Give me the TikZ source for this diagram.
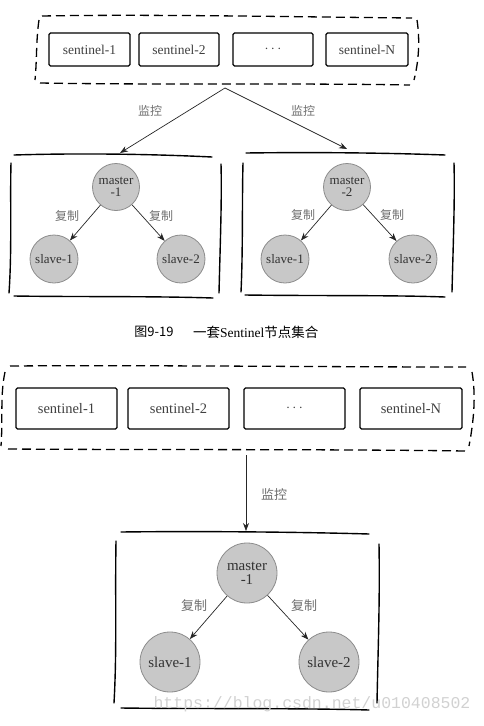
\documentclass[tikz,border=0pt]{standalone}
\usepackage{fontspec}
\setmainfont{Liberation Serif}
\newfontfamily\cjk{Noto Sans CJK SC}
\newfontfamily\wmfont{Liberation Mono}
\usetikzlibrary{arrows.meta}
\definecolor{circfill}{HTML}{C8C8C8}
\definecolor{circline}{HTML}{8C8C8C}
\definecolor{labgray}{HTML}{6E6E6E}
\begin{document}
\begin{tikzpicture}[x=1pt,y=-1pt,
  hand/.style={line width=1.4pt, line cap=round},
  dashline/.style={line width=1.3pt, dash pattern=on 9pt off 5pt},
  sbox/.style={draw, line width=1.3pt, rounded corners=1.5pt, inner sep=0pt, text=black!75},
  circ/.style={circle, draw=circline, fill=circfill, line width=0.8pt, inner sep=0pt, align=center, text=black!80},
  arr/.style={-{Stealth[length=8pt,width=6pt]}, line width=0.7pt, black!85},
  lab/.style={text=labgray, font=\cjk\fontsize{12}{12}\selectfont}
]
\useasboundingbox (0,0) rectangle (483,726);

% ---------------- Top figure ----------------
% dashed outer
\draw[dashline] (42,16) .. controls (150,14) and (300,17) .. (412,18);
\draw[dashline] (40,83) .. controls (150,85) and (300,83) .. (410,85);
\draw[dashline] (39,20) .. controls (36,40) and (37,60) .. (35,80);
\draw[dashline] (417,20) .. controls (420,40) and (419,60) .. (414,80);
% sentinel boxes
\begin{scope}[every node/.append style={font=\fontsize{13.5}{14}\selectfont}]
\node[sbox, minimum width=81pt, minimum height=33pt] (a1) at (89.5,49.5) {sentinel-1};
\node[sbox, minimum width=80pt, minimum height=33pt] (a2) at (179,49.5) {sentinel-2};
\node[sbox, minimum width=80pt, minimum height=33pt] (a3) at (273,49.5) {$\cdots$};
\node[sbox, minimum width=82pt, minimum height=33pt] (a4) at (367,49.5) {sentinel-N};
\end{scope}
\coordinate (aset) at (225,88);
% group boxes
\coordinate (g1) at (120,153);
\coordinate (g2) at (347,149);
\draw[hand] (14,155) .. controls (80,153) and (150,154) .. (212,157);
\draw[hand] (14,296) .. controls (80,297) and (150,296) .. (213,298);
\draw[hand] (11,163) .. controls (10,200) and (12,250) .. (9,293);
\draw[hand] (221,164) .. controls (222,200) and (220,250) .. (219,293);
\draw[hand] (246,153) .. controls (320,152) and (390,153) .. (445,155);
\draw[hand] (245,295) .. controls (320,296) and (390,295) .. (445,297);
\draw[hand] (243,163) .. controls (242,200) and (243,250) .. (241,292);
\draw[hand] (454,163) .. controls (455,200) and (453,250) .. (452,292);
% monitoring arrows
\draw[arr] (aset) -- (g1);
\draw[arr] (aset) -- (g2);
\node[lab] (l1) at (150,111) {监控};
\node[lab] (l2) at (303,111) {监控};
% circles
\begin{scope}[every node/.append style={font=\fontsize{13}{12.5}\selectfont}]
\node[circ, minimum size=47pt] (m1) at (116,187) {master\\-1};
\node[circ, minimum size=48pt] (s11) at (54,259) {slave-1};
\node[circ, minimum size=48pt] (s12) at (181,259) {slave-2};
\node[circ, minimum size=47pt] (m2) at (347,187) {master\\-2};
\node[circ, minimum size=48pt] (s21) at (285,259) {slave-1};
\node[circ, minimum size=48pt] (s22) at (413,259) {slave-2};
\end{scope}
\draw[arr] (m1) -- (s11);
\draw[arr] (m1) -- (s12);
\draw[arr] (m2) -- (s21);
\draw[arr] (m2) -- (s22);
\node[lab] (c11) at (67,216) {复制};
\node[lab] (c12) at (161,216) {复制};
\node[lab] (c21) at (303,215) {复制};
\node[lab] (c22) at (392,215) {复制};
% caption
\node[font=\cjk\fontsize{13}{13}\selectfont] (cap1) at (154,332) {图9-19};
\node[font=\fontsize{13.5}{13.5}\selectfont, anchor=west, inner sep=0pt] (cap2) at (193,332) {{\cjk 一套}Sentinel{\cjk 节点集合}};

% ---------------- Bottom figure ----------------
\draw[dashline] (10,366) .. controls (150,365) and (320,367) .. (466,367);
\draw[dashline] (8,449) .. controls (150,450) and (320,449) .. (466,451);
\draw[dashline] (5,372) .. controls (0,395) and (3,420) .. (1,446);
\draw[dashline] (472,372) .. controls (476,395) and (474,420) .. (469,446);
\begin{scope}[every node/.append style={font=\fontsize{14.5}{15}\selectfont}]
\node[sbox, minimum width=101pt, minimum height=41pt] (b1) at (66.5,408.5) {sentinel-1};
\node[sbox, minimum width=101pt, minimum height=41pt] (b2) at (178.5,408.5) {sentinel-2};
\node[sbox, minimum width=101pt, minimum height=41pt] (b3) at (294.5,408.5) {$\cdots$};
\node[sbox, minimum width=102pt, minimum height=41pt] (b4) at (411,408.5) {sentinel-N};
\end{scope}
\coordinate (bset) at (246,455);
\coordinate (g3) at (246,531);
\draw[arr] (bset) -- (g3);
\node[lab, font=\cjk\fontsize{13}{13}\selectfont] (l3) at (274,494) {监控};
\draw[hand] (121,532) .. controls (200,531) and (300,532) .. (369,534);
\draw[hand] (121,708) .. controls (200,709) and (300,708) .. (369,710);
\draw[hand] (116,541) .. controls (115,600) and (117,650) .. (114,703);
\draw[hand] (379,544) .. controls (380,600) and (378,650) .. (377,703);
\begin{scope}[every node/.append style={font=\fontsize{15}{14}\selectfont}]
\node[circ, minimum size=60pt] (m3) at (247,573) {master\\-1};
\node[circ, minimum size=60pt] (s31) at (170,662) {slave-1};
\node[circ, minimum size=60pt] (s32) at (329,662) {slave-2};
\end{scope}
\draw[arr] (m3) -- (s31);
\draw[arr] (m3) -- (s32);
\node[lab, font=\cjk\fontsize{13}{13}\selectfont] (c31) at (194,606) {复制};
\node[lab, font=\cjk\fontsize{13}{13}\selectfont] (c32) at (304,606) {复制};
% watermark
\node[text=black!18, font=\wmfont\fontsize{16.5}{16.5}\selectfont] (wm) at (312,704) {https://blog.csdn.net/u010408502};
\end{tikzpicture}
\end{document}
